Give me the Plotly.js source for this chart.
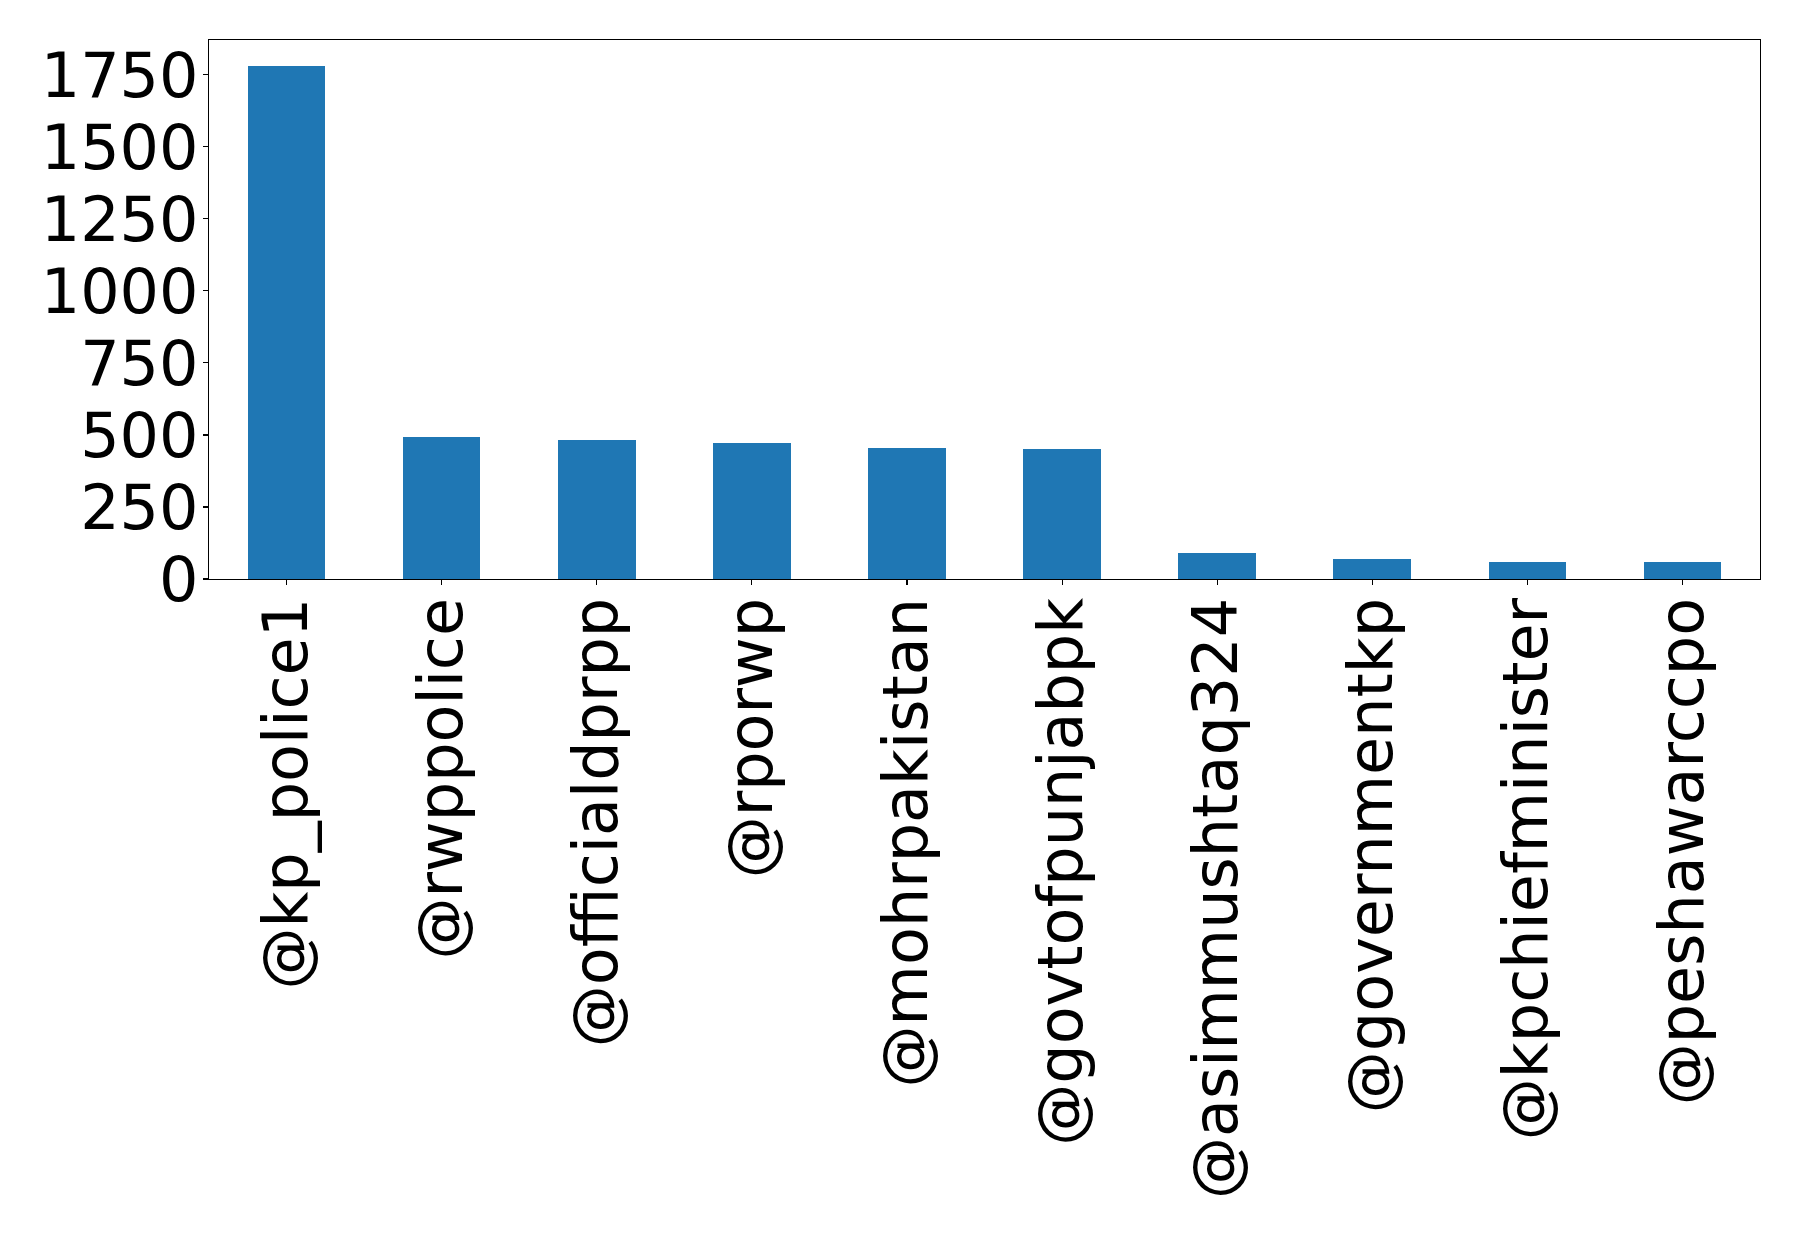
<!DOCTYPE html>
<html>
<head>
<meta charset="utf-8">
<script src="https://cdn.plot.ly/plotly-3.0.1.min.js"></script>
<style>html,body{margin:0;padding:0;background:#fff;}#chart{width:1798px;height:1234px;}</style>
</head>
<body>
<div id="chart"></div>
<script>
const categories = ["@kp_police1", "@rwppolice", "@officialdprpp", "@rporwp", "@mohrpakistan", "@govtofpunjabpk", "@asimmushtaq324", "@governmentkp", "@kpchiefminister", "@peshawarccpo"];
const counts = [1782, 492, 482, 471, 454, 450, 92, 70, 60, 60];
const yTickVals = [0, 250, 500, 750, 1000, 1250, 1500, 1750];
const yTickText = ["0", "250", "500", "750", "1000", "1250", "1500", "1750"];

const trace = {
  type: "bar",
  x: categories,
  y: counts,
  width: 0.5,
  marker: {color: "#1f77b4", line: {width: 0}},
  hoverinfo: "x+y"
};

const font = {family: "DejaVu Sans, sans-serif", size: 62, color: "#000"};

const layout = {
  width: 1798,
  height: 1234,
  margin: {l: 209, r: 38, t: 40, b: 655, pad: 0},
  paper_bgcolor: "#fff",
  plot_bgcolor: "#fff",
  showlegend: false,
  bargap: 0,
  font: font,
  xaxis: {
    type: "category",
    range: [-0.5, 9.5],
    tickangle: -90,
    ticks: "outside",
    ticklen: 5,
    tickwidth: 1.1,
    tickcolor: "#000",
    showline: true,
    linecolor: "#000",
    linewidth: 1.1,
    mirror: true,
    showgrid: false,
    zeroline: false,
    automargin: false,
    ticklabelstandoff: -12,
    tickfont: font
  },
  yaxis: {
    range: [0, 1871],
    tickvals: yTickVals,
    ticktext: yTickText,
    ticks: "outside",
    ticklen: 5,
    tickwidth: 1.1,
    tickcolor: "#000",
    showline: true,
    linecolor: "#000",
    linewidth: 1.1,
    mirror: true,
    showgrid: false,
    zeroline: false,
    automargin: false,
    ticklabelstandoff: -8,
    tickfont: font
  }
};

Plotly.newPlot("chart", [trace], layout, {displayModeBar: false, staticPlot: true});
</script>
</body>
</html>
